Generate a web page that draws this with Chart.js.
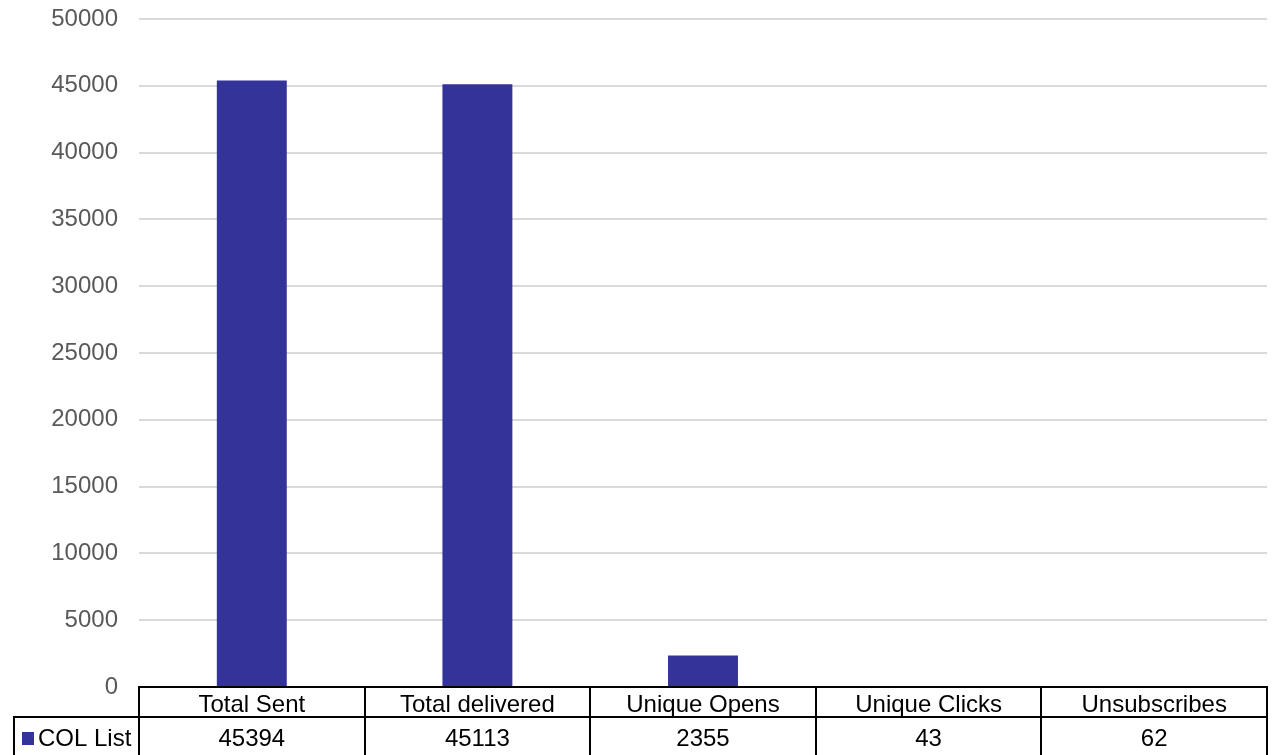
<!DOCTYPE html>
<html>
<head>
<meta charset="utf-8">
<script src="https://cdn.jsdelivr.net/npm/chart.js@4/dist/chart.umd.min.js"></script>
<style>
  html,body{margin:0;padding:0;background:#fff;}
  #wrap{width:1272px;height:755px;}
</style>
</head>
<body>
<div id="wrap"><canvas id="chart" width="1272" height="755"></canvas></div>
<script>
// --- DATA ---
const categories = ['Total Sent', 'Total delivered', 'Unique Opens', 'Unique Clicks', 'Unsubscribes'];
const seriesName = 'COL List';
const values = [45394, 45113, 2355, 43, 62];
const yMax = 50000;
const yStep = 5000;

const barColor = '#333399';
const font = 'Liberation Sans, Arial, sans-serif';

// --- DATA TABLE UNDER THE AXIS ---
const dataTable = {
  id: 'dataTable',
  afterDraw(chart){
    const {ctx, chartArea} = chart;
    const x = chart.scales.x;
    const top = Math.round(chartArea.bottom);
    const rowH = 30;
    const mid = top + rowH;
    const bottom = chart.height + 2;
    const labelLeft = 14;
    const colW = (chartArea.right - chartArea.left) / categories.length;

    ctx.save();
    ctx.strokeStyle = '#000';
    ctx.lineWidth = 2;
    ctx.beginPath();
    ctx.moveTo(chartArea.left - 1, top); ctx.lineTo(chartArea.right + 1, top);
    ctx.moveTo(labelLeft - 1, mid); ctx.lineTo(chartArea.right + 1, mid);
    ctx.moveTo(labelLeft, mid); ctx.lineTo(labelLeft, bottom);
    for(let i=0;i<=categories.length;i++){
      const px = Math.round(chartArea.left + i*colW);
      ctx.moveTo(px, top); ctx.lineTo(px, bottom);
    }
    ctx.stroke();

    ctx.fillStyle = '#000';
    ctx.font = '24px ' + font;
    ctx.textAlign = 'center';
    ctx.textBaseline = 'middle';
    categories.forEach((c,i)=>{
      const cx = x.getPixelForValue(i);
      ctx.fillText(c, cx, top + 18);
      ctx.fillText(String(values[i]), cx, mid + 22);
    });

    // series key
    ctx.fillStyle = barColor;
    ctx.fillRect(22, mid + 15, 12, 13);
    ctx.fillStyle = '#000';
    ctx.textAlign = 'left';
    ctx.fillText(seriesName, 38, mid + 22);
    ctx.restore();
  }
};

// --- CHART ---
const ctx = document.getElementById('chart').getContext('2d');
new Chart(ctx, {
  type: 'bar',
  data: {
    labels: categories,
    datasets: [{
      label: seriesName,
      data: values,
      backgroundColor: barColor,
      borderWidth: 0,
      barPercentage: 0.31,
      categoryPercentage: 1
    }]
  },
  options: {
    responsive: false,
    animation: false,
    layout: {autoPadding: false, padding: {left: 0, right: 5, top: 19, bottom: 68}},
    plugins: {legend: {display: false}, tooltip: {enabled: false}},
    scales: {
      x: {display: false},
      y: {
        min: 0, max: yMax,
        afterFit(scale){ scale.width = 139; scale.paddingTop = 0; scale.paddingBottom = 0; },
        border: {display: false},
        grid: {color: '#d9d9d9', lineWidth: 2, drawTicks: false},
        ticks: {
          stepSize: yStep, padding: 21, color: '#595959',
          font: {family: font, size: 24},
          callback: (v)=>String(v)
        }
      }
    }
  },
  plugins: [dataTable]
});
</script>
</body>
</html>
